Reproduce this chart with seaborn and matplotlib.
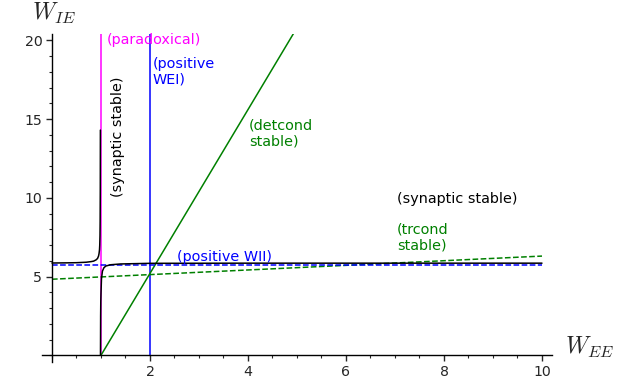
import numpy as np
import pandas as pd
import matplotlib
matplotlib.use("Agg")
import matplotlib.pyplot as plt
import seaborn as sns
from matplotlib.ticker import MultipleLocator

# curves
# black: synaptic stability boundary, two branches around W_EE ~ 1
syn_left_x = [0.0, 0.3, 0.5, 0.7, 0.8, 0.85, 0.9, 0.93, 0.95, 0.96, 0.97, 0.975, 0.98, 0.983, 0.986, 0.988]
syn_left_y = [5.86, 5.87, 5.88, 5.91, 5.95, 5.98, 6.06, 6.15, 6.3, 6.45, 6.7, 7.0, 7.6, 8.5, 10.5, 14.3]
syn_right_x = [0.99, 0.993, 0.996, 1.0, 1.01, 1.03, 1.06, 1.1, 1.2, 1.4, 2.0, 4.0, 7.0, 10.0]
syn_right_y = [0.0, 2.5, 3.4, 3.9, 4.85, 5.35, 5.56, 5.67, 5.75, 5.8, 5.84, 5.85, 5.85, 5.85]

# green solid: detcond boundary
det_x = [1.0, 5.0]
det_y = [0.0, 20.8]
# green dashed: trcond boundary
tr_x = [0.0, 10.0]
tr_y = [4.83, 6.3]
# blue dashed: positive WII
wii_x = [0.0, 10.0]
wii_y = [5.72, 5.72]
# vertical lines: paradoxical (magenta) and positive WEI (blue)
parad_x = [1.01, 1.01]
wei_x = [2.0, 2.0]
vert_y = [0.0, 20.4]

labels = [
    ("(paradoxical)", 1.12, 20.0, "#ff00ff", 0),
    ("(synaptic stable)", 1.34, 13.85, "black", 90),
    ("(positive\nWEI)", 2.06, 18.0, "#0000ff", 0),
    ("(detcond\nstable)", 4.02, 14.1, "#008000", 0),
    ("(synaptic stable)", 7.04, 9.95, "black", 0),
    ("(trcond\nstable)", 7.04, 7.5, "#008000", 0),
    ("(positive WII)", 2.55, 6.25, "#0000ff", 0),
]

sns.set_style("white")
plt.rcParams["font.family"] = ["DejaVu Sans"]
plt.rcParams["mathtext.fontset"] = "cm"

fig = plt.figure(figsize=(6.23, 3.86), dpi=100)
ax = fig.add_axes([0.0677, 0.0632, 0.818, 0.8487])

def draw(xs, ys, color, ls="-"):
    df = pd.DataFrame({"x": xs, "y": ys})
    sns.lineplot(data=df, x="x", y="y", color=color, linestyle=ls, lw=1.1,
                 estimator=None, sort=False, ax=ax)

draw(parad_x, vert_y, "#ff00ff")
draw(wei_x, vert_y, "#0000ff")
draw(det_x, det_y, "#008000")
draw(tr_x, tr_y, "#008000", "--")
draw(wii_x, wii_y, "#0000ff", "--")
draw(syn_left_x, syn_left_y, "black")
draw(syn_right_x, syn_right_y, "black")

for txt, x, y, c, rot in labels:
    ax.text(x, y, txt, color=c, fontsize=10.4, rotation=rot,
            ha="center" if rot else "left", va="center")

ax.set_xlim(-0.2, 10.2)
ax.set_ylim(-0.4, 20.4)
ax.set_xlabel("")
ax.set_ylabel("")

# sage-like axes crossing at the origin
for s in ["top", "right"]:
    ax.spines[s].set_visible(False)
ax.spines["left"].set_position(("data", 0))
ax.spines["bottom"].set_position(("data", 0))
for s in ["left", "bottom"]:
    ax.spines[s].set_color("black")
    ax.spines[s].set_linewidth(1.0)

ax.xaxis.set_major_locator(MultipleLocator(2))
ax.xaxis.set_minor_locator(MultipleLocator(0.5))
ax.yaxis.set_major_locator(MultipleLocator(5))
ax.yaxis.set_minor_locator(MultipleLocator(1))
ax.set_xticks([2, 4, 6, 8, 10])
ax.set_yticks([5, 10, 15, 20])
ax.tick_params(which="major", direction="out", length=4, width=1, labelsize=10.2,
               bottom=True, left=True, pad=3)
ax.tick_params(which="minor", direction="out", length=2, width=0.8,
               bottom=True, left=True)

fig.text(32 / 623, 1 - 13 / 386, r"$W_{IE}$", fontsize=17, ha="left", va="center")
fig.text(565 / 623, 1 - 347 / 386, r"$W_{EE}$", fontsize=17, ha="left", va="center")

fig.savefig("out.png", dpi=100)
